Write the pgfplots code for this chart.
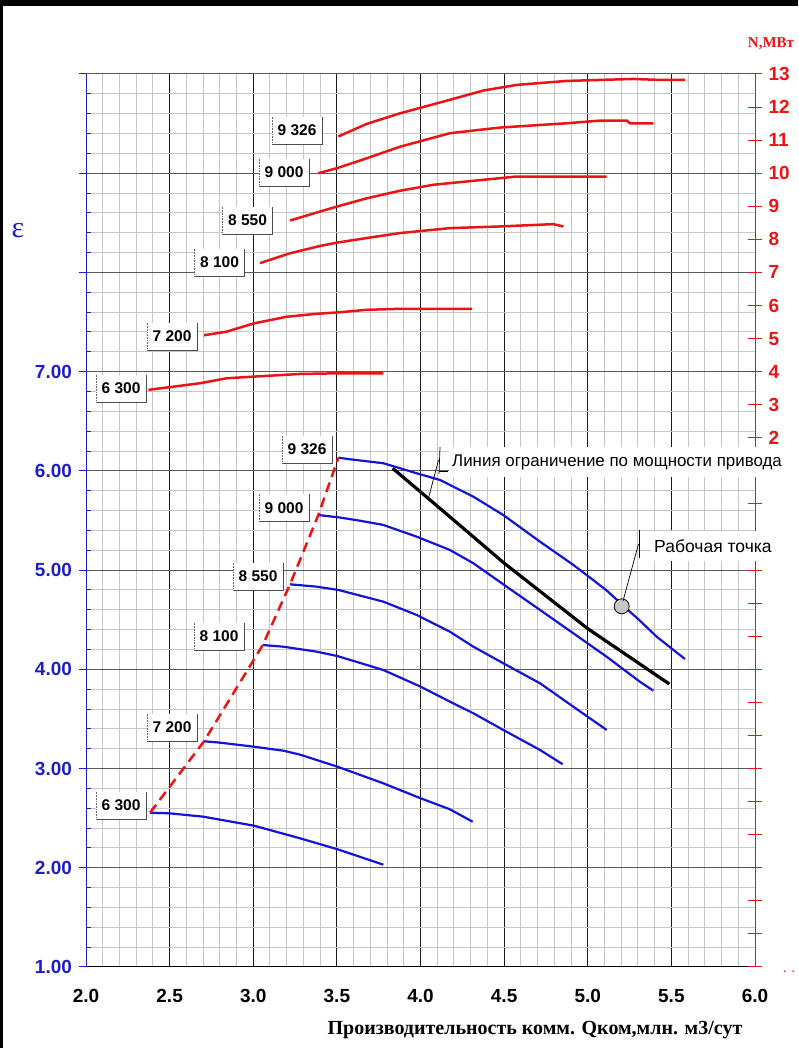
\documentclass[border=0pt]{standalone}
\usepackage{fontspec}
\setmainfont{Liberation Serif}
\newfontfamily\arial{Liberation Sans}
\usepackage{pgfplots}
\pgfplotsset{compat=1.18}
\definecolor{cblue}{RGB}{20,20,215}
\definecolor{cred}{RGB}{235,20,20}
\definecolor{caxblue}{RGB}{30,30,200}
\definecolor{gminor}{RGB}{198,198,198}
\newcommand{\lbl}[3]{%
  \node[fill=white, minimum width=50pt, minimum height=27pt, inner sep=0pt,
        font=\arial\bfseries\fontsize{15.5}{15.5}\selectfont] (L) at (#1,#2) {#3};
  \draw[black!70, line width=0.8pt] (L.south west) -- (L.south east) -- (L.north east);
  \draw[black!60, densely dotted, line width=0.6pt] (L.south west) -- (L.north west);}
\begin{document}
\begin{tikzpicture}
\path[use as bounding box, fill=black] (0,0) rectangle (798pt,1048pt);
\fill[white] (3pt,0) rectangle (798pt,1042pt);

\begin{axis}[
  at={(86pt,81pt)}, anchor=south west,
  scale only axis, width=669pt, height=893pt,
  xmin=2, xmax=6, ymin=1, ymax=10,
  axis x line*=bottom, axis y line*=left,
  x axis line style={-, black, line width=1pt},
  y axis line style={-, caxblue, line width=1pt},
  xtick={2,2.5,...,6},
  xticklabels={2.0,2.5,3.0,3.5,4.0,4.5,5.0,5.5,6.0},
  ytick={1,...,10},
  yticklabels={1.00,2.00,3.00,4.00,5.00,6.00,7.00,{},{},{}},
  minor x tick num=4, minor y tick num=4,
  grid=both,
  major x grid style={black!90, line width=1pt},
  major y grid style={black!65, line width=1pt},
  minor grid style={gminor, line width=1pt},
  x tick style={draw=none},
  y tick style={caxblue, line width=1pt},
  tick align=outside,
  major tick length=6.5pt, minor tick length=4.5pt,
  minor tick style={xshift=4.5pt},
  xticklabel style={font=\arial\bfseries\fontsize{19}{19}\selectfont, yshift=-12pt},
  yticklabel style={font=\arial\bfseries\fontsize{19}{19}\selectfont, text=caxblue, xshift=-4pt},
]
% eps curves
\addplot[cblue, line width=2.2pt] coordinates {(2.383,2.555)(2.498,2.549)(2.701,2.515)(3.005,2.424)(3.280,2.297)(3.505,2.186)(3.778,2.031)};
\addplot[cblue, line width=2.2pt] coordinates {(2.706,3.275)(2.801,3.261)(3.005,3.220)(3.180,3.180)(3.280,3.140)(3.503,3.019)(3.778,2.851)(4.001,2.700)(4.176,2.589)(4.312,2.464)};
\addplot[cblue, line width=2.2pt] coordinates {(3.057,4.245)(3.180,4.228)(3.379,4.178)(3.503,4.134)(3.778,3.993)(4.001,3.825)(4.176,3.674)(4.316,3.557)(4.495,3.389)(4.715,3.187)(4.850,3.043)};
\addplot[cblue, line width=2.2pt] coordinates {(3.220,4.857)(3.379,4.833)(3.509,4.800)(3.778,4.682)(3.977,4.548)(4.176,4.379)(4.316,4.228)(4.495,4.061)(4.715,3.859)(4.914,3.623)(5.113,3.389)};
\addplot[cblue, line width=2.2pt] coordinates {(3.389,5.555)(3.509,5.532)(3.638,5.498)(3.778,5.455)(3.977,5.337)(4.176,5.203)(4.316,5.069)(4.515,4.833)(4.715,4.598)(4.914,4.363)(5.113,4.127)(5.312,3.875)(5.392,3.785)};
\addplot[cblue, line width=2.2pt] coordinates {(3.509,6.133)(3.578,6.117)(3.778,6.077)(3.977,5.976)(4.117,5.908)(4.316,5.740)(4.495,5.555)(4.715,5.286)(4.914,5.052)(5.013,4.925)(5.113,4.795)(5.213,4.640)(5.312,4.490)(5.412,4.329)(5.581,4.104)};
% surge line
\addplot[cred, line width=2.5pt, dash pattern=on 10pt off 6pt] coordinates {(2.383,2.555)(2.706,3.275)(3.057,4.245)(3.220,4.857)(3.389,5.555)(3.509,6.133)};
% power limit
\addplot[black, line width=3.2pt] coordinates {(3.834,6.025)(4.030,5.746)(4.250,5.430)(4.500,5.070)(4.750,4.740)(5.000,4.410)(5.250,4.124)(5.488,3.852)};
% working point
\addplot[only marks, mark=*, mark size=7.5pt, mark options={fill=gray!45, draw=black, line width=0.8pt}] coordinates {(5.203,4.635)};
\end{axis}

\begin{axis}[
  at={(86pt,81pt)}, anchor=south west,
  scale only axis, width=669pt, height=893pt,
  xmin=2, xmax=6, ymin=-14, ymax=13,
  hide x axis,
  axis y line*=right,
  y axis line style={-, cred, line width=1pt},
  ytick={-14,...,13},
  yticklabels={{},{},{},{},{},{},{},{},{},{},{},{},{},{},{},{},2,3,4,5,6,7,8,9,10,11,12,13},
  y tick style={cred, line width=1pt},
  tick align=center, major tick length=14pt,
  yticklabel style={font=\arial\bfseries\fontsize{19}{19}\selectfont, text=cred, xshift=3pt},
]
\addplot[cred, line width=2.5pt] coordinates {(2.373,3.45)(2.498,3.53)(2.682,3.65)(2.841,3.80)(3.004,3.85)(3.280,3.93)(3.505,3.95)(3.778,3.95)};
\addplot[cred, line width=2.5pt] coordinates {(2.706,5.10)(2.841,5.21)(3.004,5.46)(3.200,5.66)(3.379,5.75)(3.505,5.79)(3.678,5.87)(3.877,5.90)(4.308,5.90)};
\addplot[cred, line width=2.5pt] coordinates {(3.040,7.28)(3.220,7.58)(3.399,7.80)(3.499,7.90)(3.678,8.04)(3.877,8.19)(4.176,8.34)(4.475,8.39)(4.794,8.46)(4.854,8.39)};
\addplot[cred, line width=2.5pt] coordinates {(3.220,8.57)(3.399,8.84)(3.499,8.99)(3.678,9.24)(3.877,9.47)(4.077,9.65)(4.276,9.75)(4.475,9.85)(4.575,9.90)(5.113,9.90)};
\addplot[cred, line width=2.5pt] coordinates {(3.389,10.00)(3.499,10.15)(3.678,10.45)(3.877,10.80)(4.176,11.21)(4.475,11.38)(4.874,11.51)(5.073,11.59)(5.233,11.59)(5.253,11.51)(5.392,11.51)};
\addplot[cred, line width=2.5pt] coordinates {(3.509,11.11)(3.678,11.49)(3.877,11.81)(4.176,12.22)(4.376,12.50)(4.575,12.67)(4.874,12.79)(5.272,12.85)(5.432,12.82)(5.581,12.82)};
\end{axis}

\begin{scope}[x=1pt, y=-1pt, yshift=1048pt]
\node[text=caxblue, font=\fontsize{30}{30}\selectfont] at (18,231) {ε};
\node[text=cred, font=\bfseries\fontsize{15}{15}\selectfont] at (771,44) {N,МВт};
\node[font=\bfseries\fontsize{20}{20}\selectfont] at (535,1030) {Производительность комм. Qком,млн. м3/сут};
\node[text=cred, font=\arial\bfseries\fontsize{10}{10}\selectfont] at (789,972) {.\ \ .};
% number labels
\lbl{297}{130.5}{9 326}
\lbl{284}{172.5}{9 000}
\lbl{247.5}{220.5}{8 550}
\lbl{219.5}{262.5}{8 100}
\lbl{172}{336.5}{7 200}
\lbl{121}{388.5}{6 300}
\lbl{307}{449.5}{9 326}
\lbl{284}{508}{9 000}
\lbl{258}{576.5}{8 550}
\lbl{219}{636.5}{8 100}
\lbl{172}{727.5}{7 200}
\lbl{121}{805.5}{6 300}
% annotations
\node[fill=white, anchor=west, inner sep=3pt, minimum height=30pt, font=\arial\fontsize{16.9}{17}\selectfont] at (449,462) {Линия ограничение по мощности привода};
\draw[black, line width=0.7pt] (440,447) -- (439,474);
\draw[black, line width=0.7pt] (438.5,460) -- (428,500);
\draw[black, line width=0.7pt] (439,471) -- (448,471);
\node[fill=white, anchor=west, inner sep=3pt, minimum height=30pt, font=\arial\fontsize{17.5}{17.5}\selectfont] at (651,546) {Рабочая точка};
\draw[black, line width=0.7pt] (639,530) -- (639,558);
\draw[black, line width=0.7pt] (638.5,544) -- (623,601);
\end{scope}
\end{tikzpicture}
\end{document}
